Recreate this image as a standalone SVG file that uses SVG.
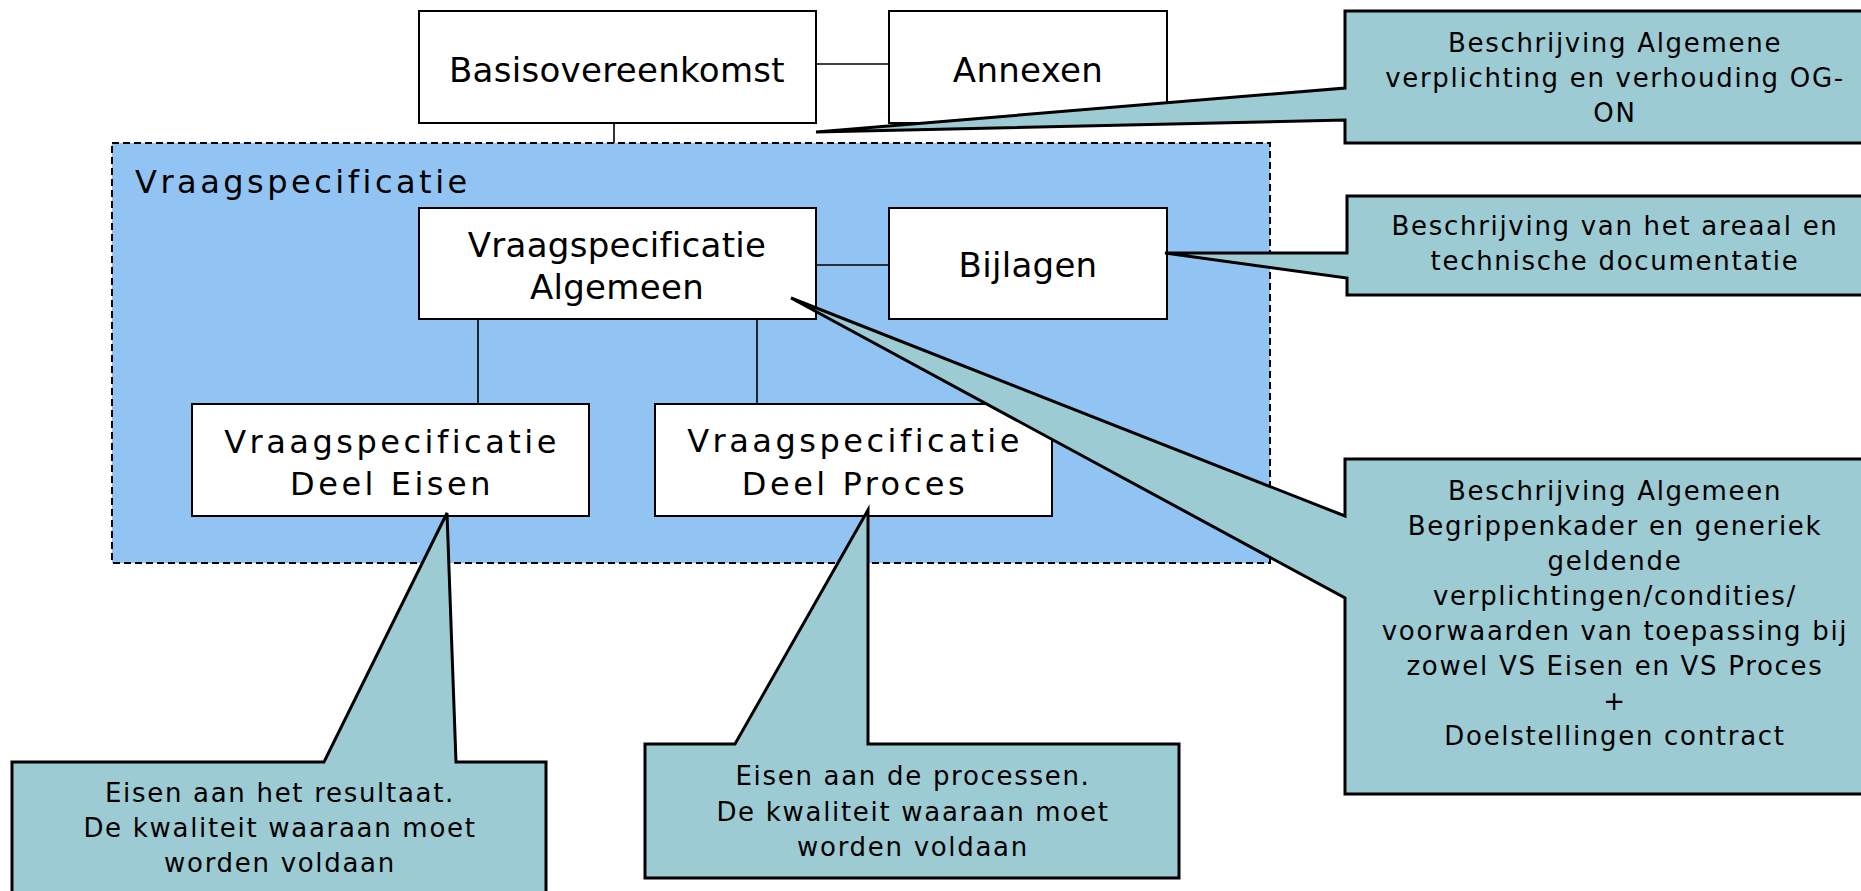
<svg xmlns="http://www.w3.org/2000/svg" width="1861" height="891" viewBox="0 0 1861 891">
<style>
.node{fill:#ffffff;stroke:#000;stroke-width:2}
.cont{fill:#91c4f3;stroke:#000;stroke-width:2;stroke-dasharray:7 4}
.conn{stroke:#000;stroke-width:1.6;fill:none}
.call{fill:#9ccbd3;stroke:#000;stroke-width:3;stroke-linejoin:miter}
.tA{font-family:"DejaVu Sans",Verdana,sans-serif;font-size:34px;letter-spacing:0.3px;fill:#000;text-anchor:middle}
.tB{font-family:"DejaVu Sans",Verdana,sans-serif;font-size:32px;letter-spacing:3.5px;fill:#000;text-anchor:middle}
.tL{font-family:"DejaVu Sans",Verdana,sans-serif;font-size:32px;letter-spacing:3.5px;fill:#000}
.tC{font-family:"DejaVu Sans",Verdana,sans-serif;font-size:26px;letter-spacing:1.7px;fill:#000;text-anchor:middle}
</style>
<rect width="1861" height="891" fill="#ffffff"/>
<g id="container">
<rect class="cont" x="112" y="143" width="1158" height="420"/>
<text class="tL" x="135" y="193">Vraagspecificatie</text>
</g>
<g id="connectors">
<line class="conn" x1="816" y1="64" x2="889" y2="64"/>
<line class="conn" x1="614" y1="123" x2="614" y2="143"/>
<line class="conn" x1="816" y1="265" x2="889" y2="265"/>
<line class="conn" x1="478" y1="319" x2="478" y2="404"/>
<line class="conn" x1="757" y1="319" x2="757" y2="404"/>
</g>
<g id="basisovereenkomst">
<rect class="node" x="419" y="11" width="397" height="112"/>
<text class="tA" x="617" y="82">Basisovereenkomst</text>
</g>
<g id="annexen">
<rect class="node" x="889" y="11" width="278" height="112"/>
<text class="tA" x="1028" y="82">Annexen</text>
</g>
<g id="vs-algemeen">
<rect class="node" x="419" y="208" width="397" height="111"/>
<text class="tA" x="617" y="257">Vraagspecificatie</text>
<text class="tA" x="617" y="299">Algemeen</text>
</g>
<g id="bijlagen">
<rect class="node" x="889" y="208" width="278" height="111"/>
<text class="tA" x="1028" y="277">Bijlagen</text>
</g>
<g id="vs-eisen">
<rect class="node" x="192" y="404" width="397" height="112"/>
<text class="tB" x="392" y="453">Vraagspecificatie</text>
<text class="tB" x="392" y="495">Deel Eisen</text>
</g>
<g id="vs-proces">
<rect class="node" x="655" y="404" width="397" height="112"/>
<text class="tB" x="855" y="452">Vraagspecificatie</text>
<text class="tB" x="855" y="495">Deel Proces</text>
</g>
<g id="callout-basis">
<polygon class="call" points="816,132 1345,88 1345,11 1885,11 1885,143 1345,143 1345,120"/>
<text class="tC" x="1615" y="52">Beschrijving Algemene</text>
<text class="tC" x="1615" y="87">verplichting en verhouding OG-</text>
<text class="tC" x="1615" y="122">ON</text>
</g>
<g id="callout-bijlagen">
<polygon class="call" points="1165,253 1347,253 1347,196 1885,196 1885,295 1347,295 1347,278"/>
<text class="tC" x="1615" y="235">Beschrijving van het areaal en</text>
<text class="tC" x="1615" y="270">technische documentatie</text>
</g>
<g id="callout-algemeen">
<polygon class="call" points="791,298 1345,516 1345,459 1885,459 1885,794 1345,794 1345,598"/>
<text class="tC" x="1615" y="500">Beschrijving Algemeen</text>
<text class="tC" x="1615" y="535">Begrippenkader en generiek</text>
<text class="tC" x="1615" y="570">geldende</text>
<text class="tC" x="1615" y="605">verplichtingen/condities/</text>
<text class="tC" x="1615" y="640">voorwaarden van toepassing bij</text>
<text class="tC" x="1615" y="675">zowel VS Eisen en VS Proces</text>
<text class="tC" x="1615" y="710">+</text>
<text class="tC" x="1615" y="745">Doelstellingen contract</text>
</g>
<g id="callout-eisen">
<polygon class="call" points="447,513 456,762 546,762 546,900 12,900 12,762 324,762"/>
<text class="tC" x="280" y="802">Eisen aan het resultaat.</text>
<text class="tC" x="280" y="837">De kwaliteit waaraan moet</text>
<text class="tC" x="280" y="872">worden voldaan</text>
</g>
<g id="callout-proces">
<polygon class="call" points="868,510 868,744 1179,744 1179,878 645,878 645,744 735,744"/>
<text class="tC" x="913" y="785">Eisen aan de processen.</text>
<text class="tC" x="913" y="821">De kwaliteit waaraan moet</text>
<text class="tC" x="913" y="856">worden voldaan</text>
</g>
</svg>
